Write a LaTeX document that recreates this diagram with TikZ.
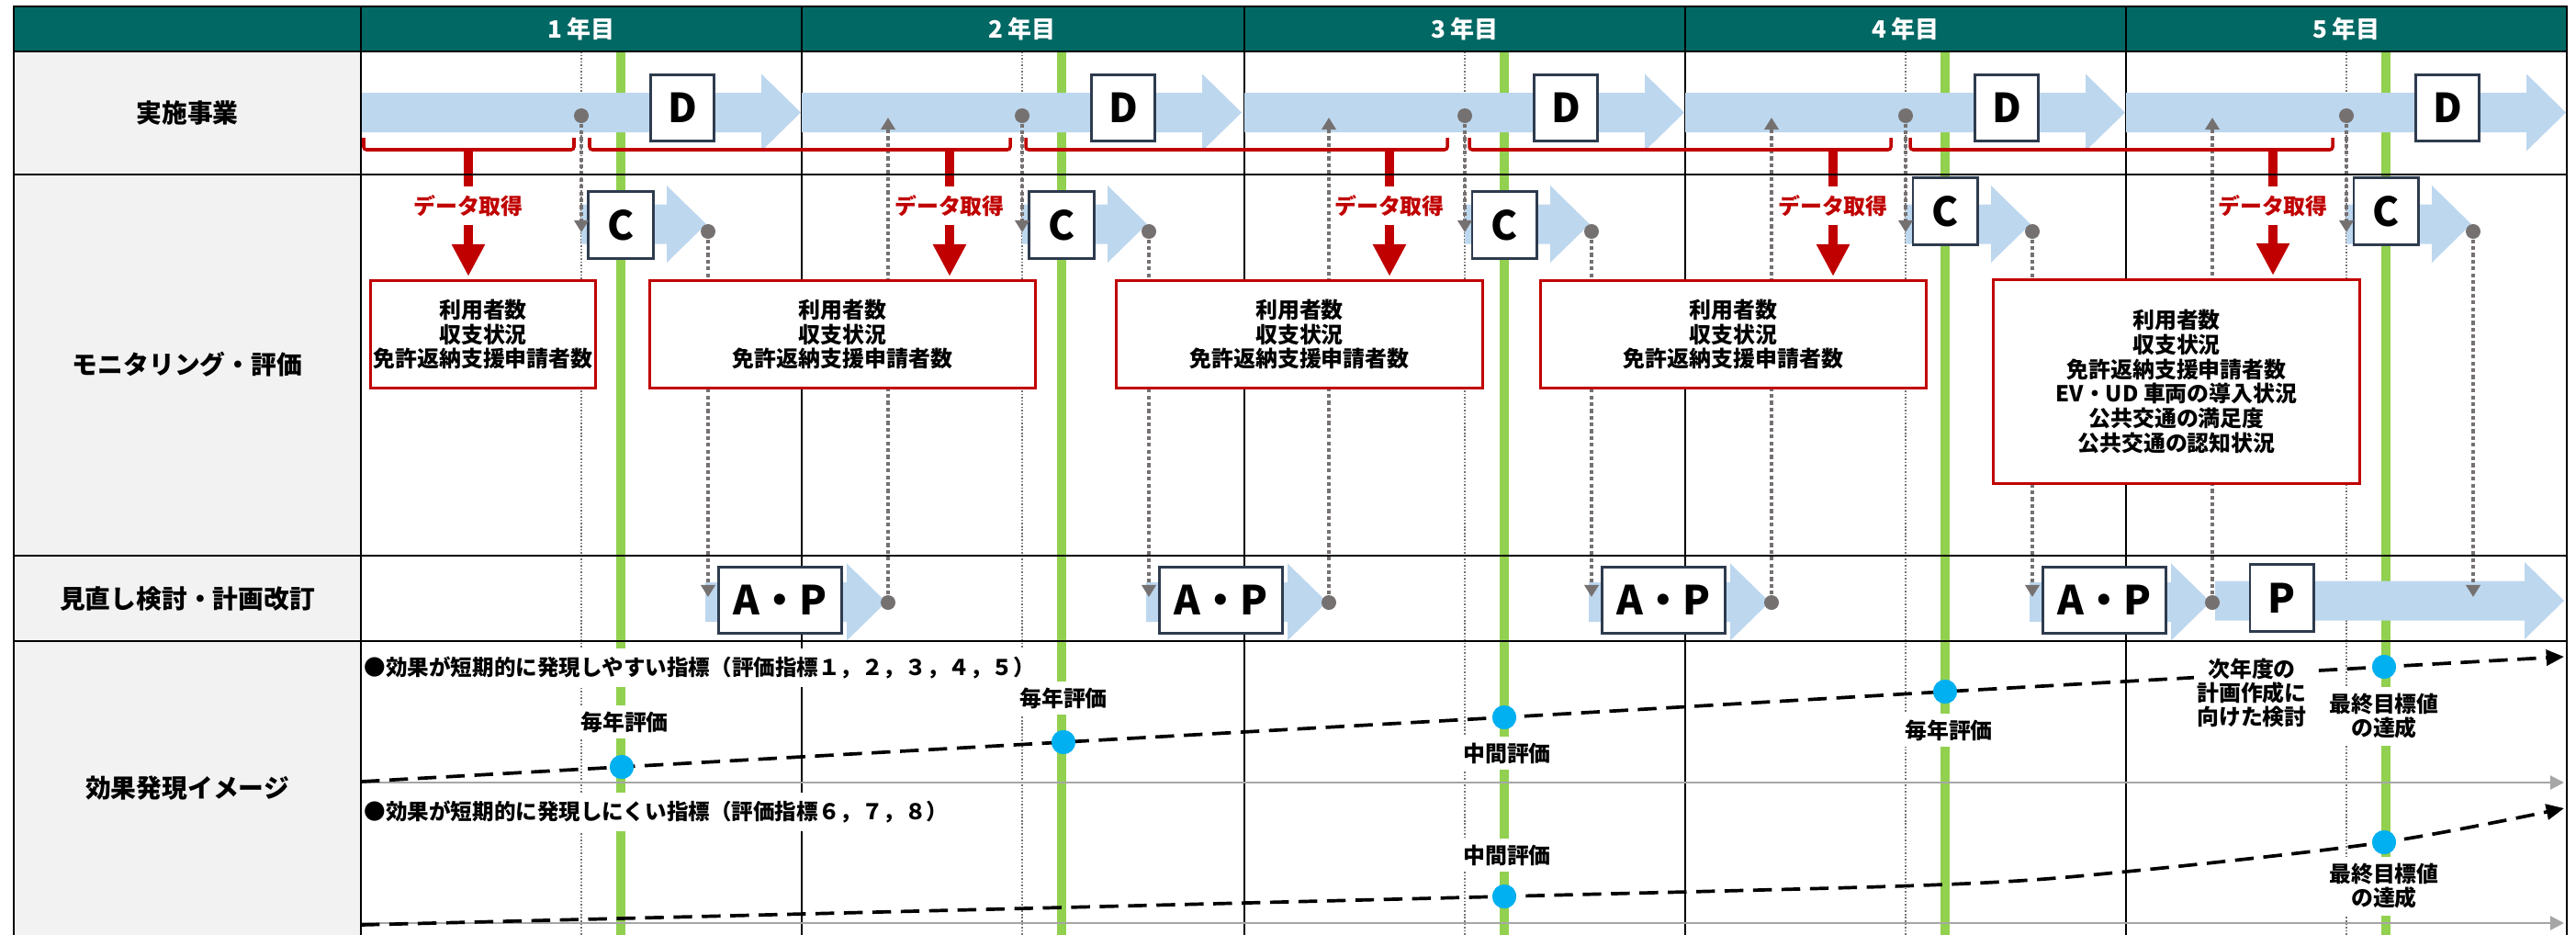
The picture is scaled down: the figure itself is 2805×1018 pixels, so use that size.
\documentclass[tikz,border=0pt]{standalone}
\usepackage{fontspec}
\setmainfont{Noto Sans CJK JP}
\usepackage{tikz}
\usetikzlibrary{arrows.meta,positioning}

\definecolor{headteal}{HTML}{026864}
\definecolor{labelgray}{HTML}{F2F2F2}
\definecolor{bandblue}{HTML}{BDD7EE}
\definecolor{yeargreen}{HTML}{92D050}
\definecolor{markred}{HTML}{C00000}
\definecolor{boxedge}{HTML}{2E3B4E}
\definecolor{dotgray}{HTML}{767171}
\definecolor{axisgray}{HTML}{A6A6A6}
\definecolor{pointblue}{HTML}{00B0F0}

% tail x, tip x, centre y
\newcommand{\bandarrow}[3]{%
  \fill[bandblue] (#1,#3-21.5) -- (#2-43,#3-21.5) -- (#2-43,#3-42) -- (#2,#3)
    -- (#2-43,#3+42) -- (#2-43,#3+21.5) -- (#1,#3+21.5) -- cycle;}

\begin{document}
\begin{tikzpicture}[x=0.01cm, y=-0.01cm,
    rowlabel/.style={font=\fontsize{7.9pt}{9pt}\selectfont\bfseries},
    yearlabel/.style={text=white, font=\fontsize{7.4pt}{9pt}\selectfont\bfseries},
    letterbox/.style={rectangle, draw=boxedge, line width=0.85pt, fill=white, inner sep=0pt, minimum width=0.69cm, minimum height=0.71cm, font=\fontsize{12.4pt}{14pt}\selectfont\bfseries},
    redbox/.style={rectangle, draw=markred, line width=0.85pt, fill=white, align=center, inner xsep=0.5pt, minimum height=1.16cm, font=\fontsize{6.8pt}{7.55pt}\selectfont\bfseries},
    getlabel/.style={fill=white, text=markred, inner xsep=1pt, inner ysep=0.09cm, font=\fontsize{6.8pt}{7.5pt}\selectfont\bfseries},
    note/.style={fill=white, align=center, inner xsep=0.03cm, inner ysep=0.07cm, font=\fontsize{6.8pt}{7.4pt}\selectfont\bfseries},
    index/.style={fill=white, inner xsep=0.03cm, inner ysep=0.09cm, font=\fontsize{6.7pt}{7.4pt}\selectfont\bfseries},
    gdot/.style={circle, fill=dotgray, inner sep=0pt, minimum size=0.16cm},
    bdot/.style={circle, fill=pointblue, inner sep=0pt, minimum size=0.26cm},
    garrow/.style={draw=dotgray, line width=1.15pt, dash pattern=on 1.2pt off 0.9pt, -{Triangle[length=3.7pt, width=4.3pt]}},
    guide/.style={draw=dotgray, line width=0.3pt, dash pattern=on 0.45pt off 0.55pt},
    yearline/.style={draw=yeargreen, line width=3.1pt},
    bracket/.style={draw=markred, line width=1pt, rounded corners=0.03cm},
    redstem/.style={draw=markred, line width=2.85pt, shorten >=1pt, -{Triangle[length=10pt, width=9.7pt]}},
    trend/.style={line width=1.05pt, dash pattern=on 5.8pt off 3pt, -{Triangle[length=5.5pt, width=4.8pt]}},
    axis/.style={draw=axisgray, line width=0.6pt, -{Triangle[length=4.3pt, width=4.3pt]}},
    frame/.style={line width=0.7pt},
    grid/.style={line width=0.45pt}
]
    \useasboundingbox (0,0) rectangle (2805,1018);

    % backgrounds
    \fill[headteal] (15,7) rectangle (2795,56);
    \fill[labelgray] (15,56) rectangle (393,1018);
    \foreach \x in {873,1355,1835,2315}
        \draw[grid] (\x,7) -- (\x,1018);

    % header
    \foreach \x [count=\i] in {393,873,1355,1835,2315}
        \node[yearlabel] (yr\i) at (\x+240,31.5) {\i\ 年目};

    % row labels
    \node[rowlabel] (jisshi) at (204,123) {実施事業};
    \node[rowlabel] (monitor) at (204,397) {モニタリング・評価};
    \node[rowlabel] (minaoshi) at (204,652) {見直し検討・計画改訂};
    \node[rowlabel] (kouka) at (204,858) {効果発現イメージ};

    % guide and green year lines
    \foreach \x in {393,873,1355,1835,2315} {
        \draw[guide] (\x+240,56) -- (\x+240,1018);
        \draw[yearline] (\x+283,56) -- (\x+283,1018);
    }

    % D and C bands
    \foreach \x in {393,873,1355,1835,2315} {
        \bandarrow{\x}{\x+479}{122.5}
        \bandarrow{\x+240}{\x+376}{244}
    }
    % A-P and P bands
    \foreach \x in {393,873,1355,1835} {
        \bandarrow{\x+375}{\x+572}{655.5}
    }
    \bandarrow{2412}{2792}{654}

    % D, C boxes and their dots
    \foreach \x/\cy [count=\i] in {393/245,873/245,1355/245,1835/230,2315/230} {
        \node[letterbox] (d\i) at (\x+350,117.5) {D};
        \node[letterbox, minimum width=0.70cm, minimum height=0.72cm] (c\i) at (\x+283,\cy) {C};
        \node[gdot] (dd\i) at (\x+240,126) {};
        \node[gdot] (cd\i) at (\x+378,252) {};
        \coordinate (ce\i) at (\x+240,253);
        \coordinate (ae\i) at (\x+378,650);
        \draw[garrow] (dd\i) -- (ce\i);
        \draw[garrow] (cd\i) -- (ae\i);
    }

    % A-P boxes
    \foreach \x [count=\i] in {393,873,1355,1835} {
        \node[letterbox, minimum width=1.33cm] (ap\i) at (\x+456.5,653.5) {A・P};
        \node[gdot] (ad\i) at (\x+574,656) {};
        \coordinate (ue\i) at (\x+574,128);
        \draw[garrow] (ad\i) -- (ue\i);
    }
    \node[letterbox, minimum height=0.72cm] (p5) at (2484.5,651) {P};

    % monitoring items
    \foreach \cx/\w [count=\i] in {526/2.44cm, 917.5/4.19cm, 1415/3.98cm, 1887.5/4.19cm} {
        \node[redbox, minimum width=\w] (rb\i) at (\cx,364) {利用者数\\収支状況\\免許返納支援申請者数};
    }
    \node[redbox, minimum width=3.98cm, minimum height=2.21cm, font=\fontsize{6.8pt}{7.6pt}\selectfont\bfseries] (rb5) at (2370,415.5)
        {利用者数\\収支状況\\免許返納支援申請者数\\EV・UD 車両の導入状況\\公共交通の満足度\\公共交通の認知状況};

    % data brackets
    \foreach \bra/\brb/\stem [count=\i] in {396/625/510, 642/1100/1034, 1117/1576/1513, 1600/2059/1996, 2080/2540/2475} {
        \draw[bracket] (\bra,150) -- (\bra,163) -- (\brb,163) -- (\brb,150);
        \coordinate (st\i) at (\stem,163);
        \draw[redstem] (st\i) -- (st\i |- rb\i.north);
        \node[getlabel] (get\i) at (\stem,224) {データ取得};
    }

    % effect image
    \coordinate (ax1a) at (393,852);
    \coordinate (ax1b) at (2792,852);
    \coordinate (ax2a) at (393,1005);
    \coordinate (ax2b) at (2792,1005);
    \draw[axis] (ax1a) -- (ax1b);
    \draw[axis] (ax2a) -- (ax2b);

    \node[bdot] (e1) at (677,835) {};
    \node[bdot] (e2) at (1158,808) {};
    \node[bdot] (e3) at (1638,781) {};
    \node[bdot] (e4) at (2118,753) {};
    \node[bdot] (e5) at (2596,726) {};
    \node[bdot] (f3) at (1638,976) {};
    \node[bdot] (f5) at (2596,917) {};
    \coordinate (ta) at (393,851);
    \coordinate (tb) at (2792,715);
    \coordinate (tc) at (393,1007);
    \coordinate (tm1) at (2118,963);
    \coordinate (tm2) at (2315,949);
    \coordinate (td) at (2792,880);

    \draw[trend] (ta) -- (e1.center) -- (e2.center) -- (e3.center) -- (e4.center) -- (e5.center) -- (tb);
    \draw[trend] plot[smooth] coordinates {(tc) (f3.center) (tm1) (tm2) (f5.center) (td)};
    \foreach \n in {e1,e2,e3,e4,e5,f3,f5} {
        \node[bdot] at (\n) {};
    }

    \node[note] (ev1) at (680,786) {毎年評価};
    \node[note] (ev2) at (1158,760) {毎年評価};
    \node[note] (ev3) at (1641,820) {中間評価};
    \node[note] (ev4) at (2122,795) {毎年評価};
    \node[note] (goal1) at (2596,780) {最終目標値\\の達成};
    \node[note] (nextplan) at (2452,754) {次年度の\\計画作成に\\向けた検討};
    \node[note] (ev3b) at (1641,931) {中間評価};
    \node[note] (goal2) at (2596,965) {最終目標値\\の達成};

    \node[index, anchor=west] (easy) at (393,727) {●効果が短期的に発現しやすい指標（評価指標１，２，３，４，５）};
    \node[index, anchor=west] (slow) at (393,884) {●効果が短期的に発現しにくい指標（評価指標６，７，８）};

    % frame
    \draw[grid] (393,7) -- (393,1018);
    \foreach \y in {56,190,605,698} {
        \draw[frame] (15,\y) -- (2795,\y);
    }
    \draw[frame] (15,1018) -- (15,7) -- (2795,7) -- (2795,1018);
\end{tikzpicture}
\end{document}
